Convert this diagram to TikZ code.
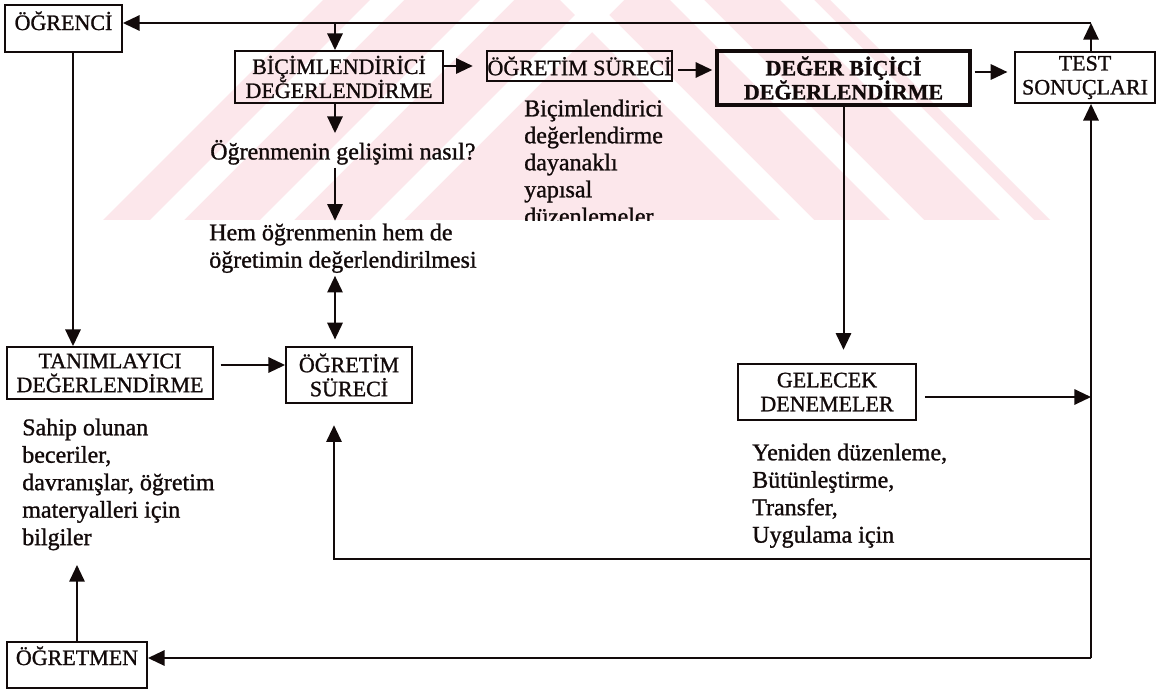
\documentclass[tikz,border=0pt]{standalone}
\usepackage{fontspec}
\setmainfont{Liberation Serif}[RawFeature={embolden=1.1}]
\usetikzlibrary{arrows.meta,calc}

\definecolor{wmpink}{RGB}{252,231,235}
\definecolor{ink}{RGB}{18,10,10}

\newcommand\bodyfont{\fontsize{18}{20.6}\selectfont}
\newcommand\boxfont{\fontsize{16.5}{18}\selectfont}

\tikzset{
  box/.style={draw=ink, line width=1.4pt, inner sep=0pt, align=center,
              font=\boxfont, text=ink},
  heavybox/.style={box, line width=2.8pt, font=\boxfont\bfseries},
  note/.style={inner sep=0pt, align=left, anchor=north west,
               font=\bodyfont, text=ink},
  link/.style={draw=ink, line width=1.5pt},
  arr/.style={link, -{Triangle[length=12.5pt,width=11.5pt]}},
  darr/.style={link, {Triangle[length=12.5pt,width=11.5pt]}-{Triangle[length=12.5pt,width=11.5pt]}},
}

\begin{document}
\begin{tikzpicture}[x=0.75pt,y=-0.75pt]
\useasboundingbox (0,0) rectangle (1166,689);
\fill[white] (0,0) rectangle (1166,689);

% faint striped background band
\begin{scope}
  \clip (103,220) -- (323,0) -- (830,0) -- (1050,220) -- cycle;
  \fill[wmpink] (0,0) rectangle (1166,220);
  \foreach \a in {260,370,480,590}
    \fill[white] (\a,0) -- (\a+34,0) -- (\a+34-220,220) -- (\a-220,220) -- cycle;
  \foreach \a in {560,670,780}
    \fill[white] (\a,0) -- (\a+34,0) -- (\a+254,220) -- (\a+220,220) -- cycle;
\end{scope}

% boxes
\node[box, minimum width=87.75pt, text height=18.75pt, text depth=16.5pt]
  (ogrenci) at (63.5,28.5) {ÖĞRENCİ};
\node[box, minimum width=156pt, minimum height=39pt]
  (bicim) at (339,77) {BİÇİMLENDİRİCİ\\DEĞERLENDİRME};
\node[box, minimum width=138.75pt, minimum height=22.5pt]
  (ogretimtop) at (579.5,66) {ÖĞRETİM SÜRECİ};
\node[heavybox, minimum width=190pt, minimum height=40pt]
  (deger) at (843.5,78) {DEĞER BİÇİCİ\\DEĞERLENDİRME};
\node[box, minimum width=105pt, minimum height=38.25pt]
  (test) at (1085,77.5) {TEST\\SONUÇLARI};
\node[box, minimum width=154.5pt, minimum height=39pt]
  (tanim) at (110,373) {TANIMLAYICI\\DEĞERLENDİRME};
\node[box, minimum width=94.5pt, minimum height=42pt]
  (ogretimlow) at (349,375) {ÖĞRETİM\\SÜRECİ};
\node[box, minimum width=133.5pt, minimum height=42pt]
  (gelecek) at (827,392) {GELECEK\\DENEMELER};
\node[box, minimum width=105pt, text height=17.25pt, text depth=17.25pt]
  (ogretmen) at (77,665) {ÖĞRETMEN};

% free texts (each first line carries a strut, so the top edge is fixed)
\node[note] (q1) at (210,139.75) {\strut Öğrenmenin gelişimi nasıl?};
\node[note] (q2) at (209,220.75) {\strut Hem öğrenmenin hem de\\öğretimin değerlendirilmesi};
\begin{scope}
  \clip (500,80) rectangle (720,220.5);
  \node[note, font=\fontsize{18}{20.25}\selectfont] (bici) at (524,97.1)
    {\strut Biçimlendirici\\değerlendirme\\dayanaklı\\yapısal\\düzenlemeler};
\end{scope}
\node[note] (sahip) at (22,415.75)
  {\strut Sahip olunan\\beceriler,\\davranışlar, öğretim\\materyalleri için\\bilgiler};
\node[note] (yeniden) at (752,440.75)
  {\strut Yeniden düzenleme,\\Bütünleştirme,\\Transfer,\\Uygulama için};

% corner points of the feedback lines
\coordinate (tr) at (1091,23);
\coordinate (tb) at (335,23);
\coordinate (br) at (1091,658);
\coordinate (mr) at (1091,559);
\coordinate (ml) at (334,559);
\coordinate (lx) at (73,0);
\coordinate (ox) at (77,565);

% connectors
\draw[arr] (test.north -| tr) -- (tr);
\draw[arr] (tr) -- (ogrenci.east |- tr);
\draw[arr] (tb) -- (tb |- bicim.north);
\draw[arr, shorten >=5pt] (tb |- bicim.south) -- (tb |- q1.north);
\draw[arr] (tb |- q1.south) -- (tb |- q2.north);
\draw[darr, shorten <=2pt, shorten >=5pt] (tb |- q2.south) -- (tb |- ogretimlow.north);
\draw[arr, shorten >=10pt] (bicim.east |- ogretimtop.west) -- (ogretimtop.west);
\draw[arr, shorten <=4pt, shorten >=2pt]
  ([yshift=-3pt]ogretimtop.east) -- ([yshift=-3pt]ogretimtop.east -| deger.west);
\draw[arr, shorten <=2pt, shorten >=5pt]
  ([yshift=4.5pt]deger.east) -- ([yshift=4.5pt]deger.east -| test.west);
\draw[arr, shorten >=10pt] (deger.south) -- (deger.south |- gelecek.north);
\draw[arr, shorten <=6pt] ([yshift=-3.75pt]gelecek.east) -- ([yshift=-3.75pt]gelecek.east -| tr);
\draw[arr] (br) -- (tr |- test.south);
\draw[arr] (br) -- (ogretmen.east |- br);
\draw[arr, shorten >=16pt] (mr) -- (ml) -- (ml |- ogretimlow.south);
\draw[arr] (lx |- ogrenci.south) -- (lx |- tanim.north);
\draw[arr, shorten <=5pt]
  ([yshift=6pt]tanim.east) -- ([yshift=6pt]tanim.east -| ogretimlow.west);
\draw[arr] (ogretmen.north -| ox) -- (ox);
\end{tikzpicture}
\end{document}
